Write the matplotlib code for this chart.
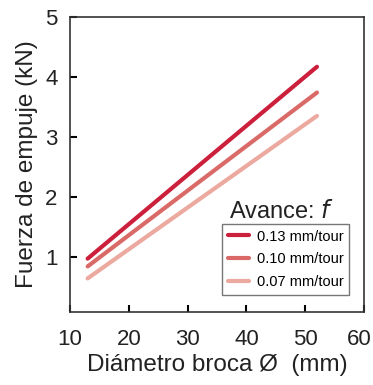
import matplotlib
matplotlib.use("Agg")
import matplotlib.pyplot as plt
from matplotlib.transforms import ScaledTranslation

plt.rcParams['font.family'] = ['Liberation Sans', 'DejaVu Sans']

diametro = [13, 52]
fuerza_013 = [0.97, 4.17]
fuerza_010 = [0.84, 3.74]
fuerza_007 = [0.64, 3.35]
etiquetas = ["0.13 mm/tour", "0.10 mm/tour", "0.07 mm/tour"]
colores = ["#cc1f3c", "#da6a68", "#eca99f"]
x_ticks = [10, 20, 30, 40, 50, 60]
y_ticks = [1, 2, 3, 4, 5]

fig = plt.figure(figsize=(3.73, 3.85), dpi=100)
ax = fig.add_axes([70/373, 1 - 312/385, 294/373, 295/385])

for serie, color, etq in zip([fuerza_013, fuerza_010, fuerza_007], colores, etiquetas):
    ax.plot(diametro, serie, color=color, lw=3.0, solid_capstyle='round', label=etq)

ax.set_xlim(10, 60)
ax.set_ylim(0.08, 5.0)
ax.set_xticks(x_ticks)
ax.set_yticks(y_ticks)
ax.tick_params(axis='x', direction='in', length=5, width=1.5, pad=12, labelsize=16)
ax.tick_params(axis='y', direction='in', length=5, width=1.5, pad=9, labelsize=16)
for lab in ax.get_xticklabels() + ax.get_yticklabels():
    lab.set_color('#222222')
# keep the last x tick label inside the figure
ultimo = ax.get_xticklabels()[-1]
ultimo.set_transform(ultimo.get_transform() + ScaledTranslation(-5/100, 0, fig.dpi_scale_trans))
for sp in ax.spines.values():
    sp.set_linewidth(1.2)
    sp.set_color('#333333')

ax.set_xlabel("Diámetro broca Ø  (mm)", fontsize=17.5, color='#222222', labelpad=3)
ax.set_ylabel("Fuerza de empuje (kN)", fontsize=17.5, color='#222222', labelpad=5)

leg = ax.legend(loc='lower right', bbox_to_anchor=(0.95, 0.058), fontsize=10.5,
                frameon=True, fancybox=False, edgecolor='#555555',
                handlelength=1.45, handletextpad=0.55, borderpad=0.4,
                labelspacing=0.6, borderaxespad=0)
leg.get_frame().set_linewidth(1.0)
ax.text(0.72, 0.30, "Avance: $\\it{f}$", transform=ax.transAxes, fontsize=17,
        ha='center', va='bottom', color='#222222')

fig.savefig("out.png", dpi=100)
